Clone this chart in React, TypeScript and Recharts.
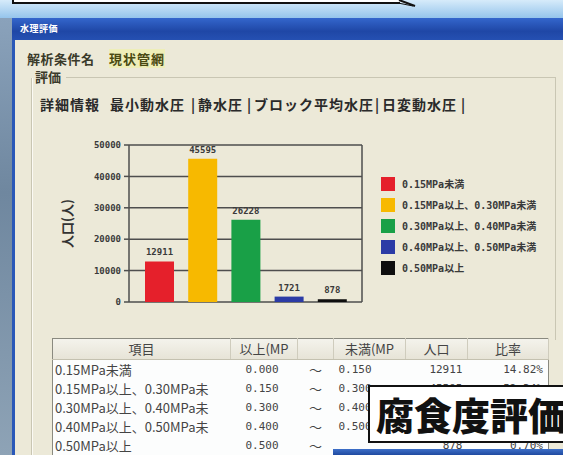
import React from 'react';
import { BarChart, Bar, XAxis, YAxis, CartesianGrid, Cell, LabelList, Legend } from 'recharts';

const categories = [
  '0.15MPa未満',
  '0.15MPa以上、0.30MPa未満',
  '0.30MPa以上、0.40MPa未満',
  '0.40MPa以上、0.50MPa未満',
  '0.50MPa以上',
];
const population = [12911, 45595, 26228, 1721, 878];
const barColors = ['#e5202b', '#f7b900', '#19a047', '#2b3ba6', '#0e0e0e'];
const yTicks = [0, 10000, 20000, 30000, 40000, 50000];

const tableHeaders = ['項目', '以上(MP', '', '未満(MP', '人口', '比率'];
const rowLabels = [
  '0.15MPa未満',
  '0.15MPa以上、0.30MPa未',
  '0.30MPa以上、0.40MPa未',
  '0.40MPa以上、0.50MPa未',
  '0.50MPa以上',
];
const lowerBounds = ['0.000', '0.150', '0.300', '0.400', '0.500'];
const upperBounds = ['0.150', '0.300', '0.400', '0.500', ''];
const ratios = ['14.82%', '52.34%', '30.11%', '1.98%', '0.70%'];

const tabs = [
  { t: '詳細情報', x: 40 },
  { t: '最小動水圧', x: 110 },
  { t: '|', x: 191 },
  { t: '静水圧', x: 198 },
  { t: '|', x: 247 },
  { t: 'ブロック平均水圧', x: 254 },
  { t: '|', x: 375 },
  { t: '日変動水圧', x: 382 },
  { t: '|', x: 461 },
];

const data = categories.map((c, i) => ({ name: c, population: population[i] }));

const jp = '"Noto Sans CJK JP", sans-serif';
const mono = '"DejaVu Sans Mono", "Noto Sans CJK JP", monospace';

const abs = (s: React.CSSProperties): React.CSSProperties => ({ position: 'absolute', ...s });

const LegendContent = () => (
  <div style={{ fontFamily: mono, fontSize: 10, fontWeight: 700, color: '#3a3a3a' }}>
    {categories.map((c, i) => (
      <div key={c} style={{ display: 'flex', alignItems: 'center', height: 21 }}>
        <div style={{ width: 14, height: 14, background: barColors[i], marginRight: 7 }} />
        <span style={{ whiteSpace: 'nowrap' }}>{c}</span>
      </div>
    ))}
  </div>
);

export default function App() {
  const cellBase: React.CSSProperties = {
    height: 19,
    padding: 0,
    fontFamily: jp,
    fontSize: 12,
    color: '#444',
    whiteSpace: 'nowrap',
    overflow: 'hidden',
    lineHeight: '19px',
  };
  return (
    <div style={abs({ left: 0, top: 0, width: 563, height: 455, overflow: 'hidden', background: '#ece9d8' })}>
      {/* sky */}
      <div style={abs({ left: 0, top: 0, width: 563, height: 20, background: 'linear-gradient(to bottom, #d6ebfa, #8ec0ea)' })} />
      {/* speech box */}
      <div style={abs({ left: 12, top: -4, width: 386, height: 6, background: '#fff', borderBottom: '2px solid #111', borderLeft: '2px solid #111' })} />
      <svg style={abs({ left: 0, top: 0 })} width={563} height={20}>
        <polygon points="398,0 414,6 400,2" fill="#fff" />
        <line x1={399} y1={0} x2={415} y2={6} stroke="#111" strokeWidth={2} />
        <line x1={398} y1={3} x2={413} y2={6} stroke="#111" strokeWidth={1} />
      </svg>
      {/* left desktop strip */}
      <div style={abs({ left: 0, top: 18, width: 12, height: 437, background: 'linear-gradient(to bottom, #8aa2bb, #6f879f 40%, #8ea3b6)' })} />
      {/* title bar */}
      <div style={abs({ left: 12, top: 18, width: 551, height: 22, background: 'linear-gradient(to bottom, #3466cc, #1f47a6 60%, #2550b2)' })} />
      <div style={abs({ left: 20, top: 22, fontFamily: jp, fontSize: 9, fontWeight: 700, color: '#fff', letterSpacing: 0.5 })}>水理評価</div>
      {/* window frame */}
      <div style={abs({ left: 12, top: 40, width: 3, height: 415, background: '#2a58b8' })} />
      <div style={abs({ left: 15, top: 40, width: 548, height: 415, background: '#ece9d8' })} />

      {/* condition name */}
      <div style={abs({ left: 27, top: 49, fontFamily: jp, fontSize: 13, fontWeight: 700, color: '#3a3a2a', letterSpacing: 0.5 })}>解析条件名</div>
      <div style={abs({ left: 109, top: 49, fontFamily: jp, fontSize: 13, fontWeight: 700, color: '#4a4a12', letterSpacing: 1, background: '#eeeeb8' })}>現状管網</div>
      {/* group box */}
      <div style={abs({ left: 35, top: 67, fontFamily: jp, fontSize: 13, fontWeight: 700, color: '#3a3a2a' })}>評価</div>
      <svg style={abs({ left: 0, top: 0 })} width={563} height={455}>
        <line x1={66} y1={77.5} x2={556} y2={77.5} stroke="#c9c6b3" strokeWidth={1} />
        <line x1={31.5} y1={78} x2={31.5} y2={455} stroke="#c9c6b3" strokeWidth={1} />
        <line x1={32.5} y1={78} x2={32.5} y2={455} stroke="#fbfaf4" strokeWidth={1} />
        <line x1={555.5} y1={78} x2={555.5} y2={340} stroke="#c9c6b3" strokeWidth={1} />
      </svg>
      {/* tabs */}
      {tabs.map((t, i) => (
        <div key={i} style={abs({ left: t.x, top: 94, fontFamily: jp, fontSize: 14, fontWeight: 700, color: '#2a2a2a', letterSpacing: 1 })}>{t.t}</div>
      ))}

      {/* chart */}
      <div style={abs({ left: 40, top: 130 })}>
        <BarChart width={520} height={190} data={data} margin={{ top: 15, right: 198, bottom: 18, left: 0 }}>
          <CartesianGrid vertical={false} stroke="#4e4e4e" strokeWidth={1.5} />
          <CartesianGrid horizontal={false} verticalPoints={[322]} stroke="#4e4e4e" strokeWidth={1.5} />
          <XAxis dataKey="name" hide padding={{ left: 9, right: 8 }} />
          <YAxis
            width={89}
            domain={[0, 50000]}
            ticks={yTicks}
            interval={0}
            tickSize={5}
            tickMargin={3}
            axisLine={{ stroke: '#4e4e4e', strokeWidth: 1.5 }}
            tickLine={{ stroke: '#4e4e4e', strokeWidth: 1.5 }}
            tick={{ fontFamily: mono, fontSize: 9, fontWeight: 700, fill: '#3a3a3a' }}
            label={{ value: '人口(人)', angle: -90, position: 'insideLeft', offset: 27, style: { textAnchor: 'middle', fontFamily: jp, fontSize: 13, fontWeight: 700, fill: '#333' } }}
          />
          <Bar dataKey="population" barSize={29} isAnimationActive={false}>
            {data.map((d, i) => (
              <Cell key={d.name} fill={barColors[i]} />
            ))}
            <LabelList dataKey="population" position="top" offset={6} style={{ fontFamily: mono, fontSize: 9, fontWeight: 700, fill: '#3a3a3a' }} />
          </Bar>
          <Legend
            layout="vertical"
            align="center"
            verticalAlign="middle"
            content={LegendContent}
            wrapperStyle={{ left: 341, top: 43, width: 180 }}
          />
        </BarChart>
      </div>

      {/* table */}
      <table
        style={abs({
          left: 52,
          top: 338,
          width: 496,
          borderCollapse: 'collapse',
          tableLayout: 'fixed',
          border: '1px solid #8a8a80',
          background: '#fcfdfd',
        })}
      >
        <colgroup>
          <col style={{ width: 178 }} />
          <col style={{ width: 67 }} />
          <col style={{ width: 36 }} />
          <col style={{ width: 72 }} />
          <col style={{ width: 62 }} />
          <col style={{ width: 81 }} />
        </colgroup>
        <thead>
          <tr style={{ background: 'linear-gradient(to bottom, #f4f3ec, #e6e3d6)' }}>
            {tableHeaders.map((h, i) => (
              <th
                key={i}
                style={{ ...cellBase, height: 20, lineHeight: '20px', fontWeight: 400, color: '#444', borderRight: '1px solid #cfccbd', borderBottom: '1px solid #c4c1b0', textAlign: 'center', fontSize: 13 }}
              >
                {h}
              </th>
            ))}
          </tr>
        </thead>
        <tbody>
          {rowLabels.map((r, i) => (
            <tr key={r}>
              <td style={{ ...cellBase, paddingLeft: 2, fontSize: 13 }}>{r}</td>
              <td style={{ ...cellBase, paddingLeft: 15, fontFamily: mono, fontSize: 11 }}>{lowerBounds[i]}</td>
              <td style={{ ...cellBase, textAlign: 'center', fontSize: 13 }}>～</td>
              <td style={{ ...cellBase, paddingLeft: 5, fontFamily: mono, fontSize: 11 }}>{upperBounds[i]}</td>
              <td style={{ ...cellBase, textAlign: 'right', paddingRight: 5, fontFamily: mono, fontSize: 11 }}>{population[i]}</td>
              <td style={{ ...cellBase, textAlign: 'right', paddingRight: 5, fontFamily: mono, fontSize: 11 }}>{ratios[i]}</td>
            </tr>
          ))}
        </tbody>
      </table>

      {/* taskbar strip */}
      <div style={abs({ left: 333, top: 449, width: 230, height: 6, background: 'linear-gradient(to bottom, #3d6fc8, #1f4aa0)' })} />
      {/* overlay box */}
      <div
        style={abs({
          left: 368,
          top: 385,
          width: 220,
          height: 58,
          background: '#fff',
          border: '2px solid #111',
          boxSizing: 'border-box',
        })}
      />
      <div style={abs({ left: 376, top: 386, fontFamily: jp, fontSize: 38, fontWeight: 900, color: '#111', whiteSpace: 'nowrap', lineHeight: '56px' })}>腐食度評価</div>
    </div>
  );
}
